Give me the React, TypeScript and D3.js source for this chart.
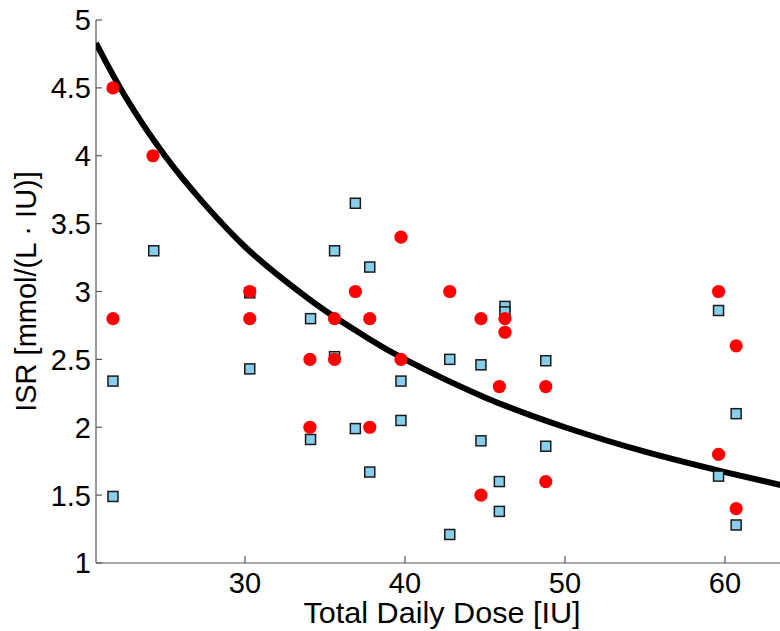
import React from "react";
import * as d3 from "d3";

// Red circles: dose vs ISR
const redDose = [21.75, 24.25, 21.75, 30.3, 30.3, 34.06, 34.06, 35.6, 35.6, 36.9, 37.8, 37.8, 39.75, 39.75, 42.8, 44.75, 44.75, 45.9, 46.25, 46.25, 48.8, 48.8, 59.6, 59.6, 60.7, 60.7];
const redISR = [4.5, 4.0, 2.8, 3.0, 2.8, 2.5, 2.0, 2.8, 2.5, 3.0, 2.8, 2.0, 3.4, 2.5, 3.0, 2.8, 1.5, 2.3, 2.8, 2.7, 2.3, 1.6, 3.0, 1.8, 2.6, 1.4];

// Blue squares: dose vs ISR
const blueDose = [21.75, 21.75, 24.3, 30.3, 30.3, 34.1, 34.1, 35.6, 35.6, 36.9, 36.9, 37.8, 37.8, 39.75, 39.75, 42.8, 42.8, 44.75, 44.75, 46.25, 46.25, 45.9, 45.9, 48.8, 48.8, 59.6, 59.6, 60.7, 60.7];
const blueISR = [2.34, 1.49, 3.3, 2.99, 2.43, 2.8, 1.91, 3.3, 2.52, 3.65, 1.99, 3.18, 1.67, 2.34, 2.05, 2.5, 1.21, 2.46, 1.9, 2.89, 2.85, 1.6, 1.38, 2.49, 1.86, 2.86, 1.64, 2.1, 1.28];

// Fitted curve
const curveDose = [20.69, 22.5, 25, 27.5, 30, 32.5, 35, 37.5, 40, 45, 50, 55, 60, 64];
const curveISR = [4.83, 4.44, 4.0, 3.64, 3.33, 3.08, 2.86, 2.67, 2.5, 2.22, 2.0, 1.82, 1.67, 1.56];

const xTicks = [30, 40, 50, 60];
const yTicks = [1, 1.5, 2, 2.5, 3, 3.5, 4, 4.5, 5];

const xTitle = "Total Daily Dose [IU]";
const yTitle = "ISR [mmol/(L · IU)]";

export default function App() {
  const W = 780, H = 631;
  const left = 96, right = 788, top = 20, bottom = 563;
  const x = d3.scaleLinear().domain([20.69, 63.94]).range([left, right]);
  const y = d3.scaleLinear().domain([1, 5]).range([bottom, top]);
  const line = d3
    .line<number>()
    .x((_, i) => x(curveDose[i]))
    .y((d) => y(d))
    .curve(d3.curveNatural);
  const font = "'Liberation Sans', Arial, Helvetica, sans-serif";
  const axisColor = "#555";
  const sq = 10;
  return (
    <svg width={W} height={H} style={{ position: "absolute", left: 0, top: 0, background: "#fff" }} fontFamily={font}>
      <defs>
        <clipPath id="plotclip">
          <rect x={left} y={0} width={right - left} height={bottom} />
        </clipPath>
      </defs>
      {/* axes */}
      <line x1={left} x2={left} y1={top} y2={bottom} stroke={axisColor} strokeWidth={1.2} />
      <line x1={left} x2={right} y1={bottom} y2={bottom} stroke={axisColor} strokeWidth={1.2} />
      {yTicks.map((t) => (
        <g key={"y" + t}>
          <line x1={left} x2={left + 6} y1={y(t)} y2={y(t)} stroke={axisColor} strokeWidth={1.2} />
          <text x={left - 5} y={y(t)} dy="0.36em" textAnchor="end" fontSize={29} fill="#000">
            {String(t)}
          </text>
        </g>
      ))}
      {xTicks.map((t) => (
        <g key={"x" + t}>
          <line x1={x(t)} x2={x(t)} y1={bottom} y2={bottom - 7} stroke={axisColor} strokeWidth={1.2} />
          <text x={x(t)} y={593} textAnchor="middle" fontSize={29} fill="#000">
            {String(t)}
          </text>
        </g>
      ))}
      <text
        x={(left + right) / 2}
        y={623}
        textAnchor="middle"
        fontSize={29}
        fill="#000"
        textLength={277}
        lengthAdjust="spacingAndGlyphs"
      >
        {xTitle}
      </text>
      <text
        transform={`translate(36, ${(top + bottom) / 2}) rotate(-90)`}
        textAnchor="middle"
        fontSize={29}
        fill="#000"
      >
        {yTitle}
      </text>
      <g clipPath="url(#plotclip)">
        <path d={line(curveISR) || ""} fill="none" stroke="#000" strokeWidth={6} />
        {blueDose.map((d, i) => (
          <rect
            key={"b" + i}
            x={x(d) - sq / 2}
            y={y(blueISR[i]) - sq / 2}
            width={sq}
            height={sq}
            fill="#87CEEB"
            stroke="#1a1a1a"
            strokeWidth={1.5}
          />
        ))}
        {redDose.map((d, i) => (
          <circle key={"r" + i} cx={x(d)} cy={y(redISR[i])} r={6.6} fill="#ff0000" />
        ))}
      </g>
    </svg>
  );
}
